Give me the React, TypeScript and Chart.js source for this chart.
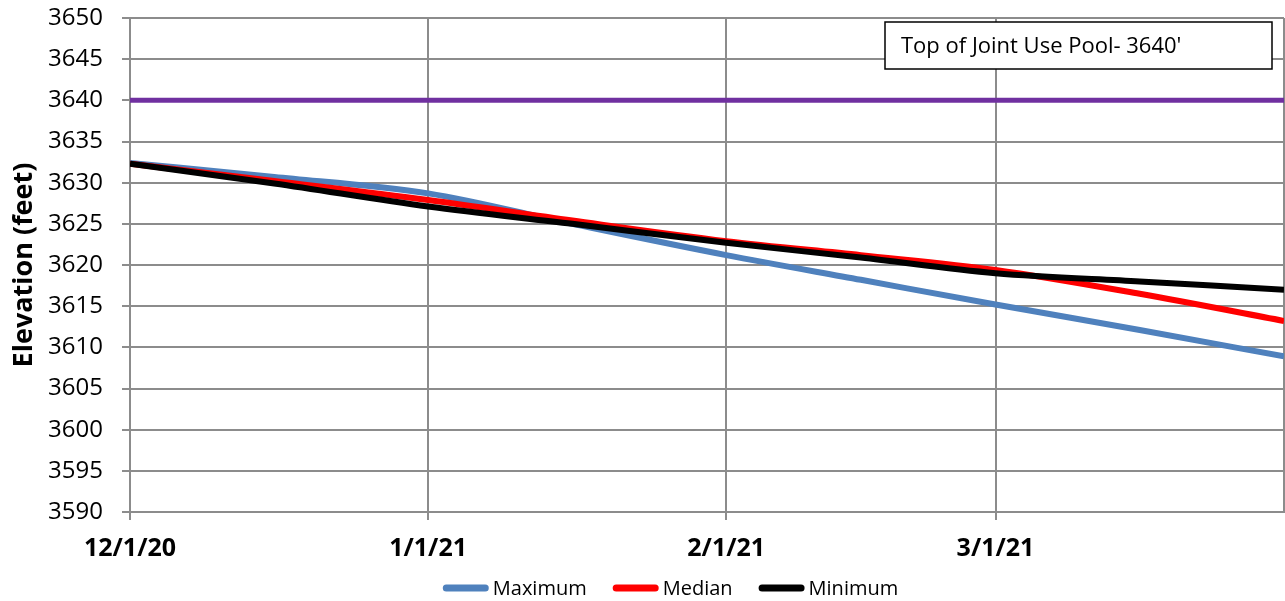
import React, { useEffect, useRef } from "react";
import { Chart, registerables } from "chart.js";

Chart.register(...registerables);

// Days since 12/1/20
const days = [0, 15, 31, 46, 62, 76, 90, 105, 120];
const maximum = [3632.4, 3630.7, 3628.7, 3625.0, 3621.2, 3618.2, 3615.2, 3612.1, 3608.9];
const median = [3632.3, 3630.2, 3627.9, 3625.4, 3622.9, 3621.2, 3619.4, 3616.5, 3613.2];
const minimum = [3632.3, 3629.9, 3627.1, 3625.0, 3622.7, 3620.9, 3619.0, 3618.0, 3617.0];
const poolDays = [0, 120];
const poolLevel = [3640, 3640];
const poolLabel = "Top of Joint Use Pool- 3640'";

const tickDays = [0, 31, 62, 90, 120];
const tickLabels = ["12/1/20", "1/1/21", "2/1/21", "3/1/21", ""];

const FONT = "'Open Sans', 'Noto Sans', sans-serif";
const GRID = "#8c8c8c";

const annotationPlugin = {
  id: "poolBox",
  afterDatasetsDraw(chart: any) {
    const { ctx, chartArea } = chart;
    const w = 387;
    const h = 47;
    const x = chartArea.right - 12 - w;
    const y = chartArea.top + 4;
    ctx.save();
    ctx.fillStyle = "#ffffff";
    ctx.fillRect(x, y, w, h);
    ctx.strokeStyle = "#000000";
    ctx.lineWidth = 1.5;
    ctx.strokeRect(x, y, w, h);
    ctx.fillStyle = "#000000";
    ctx.font = `22px ${FONT}`;
    ctx.textBaseline = "middle";
    ctx.textAlign = "left";
    ctx.fillText(poolLabel, x + 16, y + h / 2 + 1);
    ctx.restore();
  },
};

const legendPlugin = {
  id: "bottomLegend",
  afterDraw(chart: any) {
    const { ctx } = chart;
    const items = chart.data.datasets.slice(0, 3);
    const lineLen = 46;
    const gap = 4;
    const itemGap = 26;
    ctx.save();
    ctx.font = `20px ${FONT}`;
    const widths = items.map((d: any) => lineLen + gap + ctx.measureText(d.label).width);
    const total = widths.reduce((a: number, b: number) => a + b, 0) + itemGap * (items.length - 1);
    let x = chart.width / 2 + 28 - total / 2;
    const y = chart.height - 13;
    items.forEach((d: any, i: number) => {
      ctx.strokeStyle = d.borderColor;
      ctx.lineWidth = 7;
      ctx.lineCap = "round";
      ctx.beginPath();
      ctx.moveTo(x + 3.5, y);
      ctx.lineTo(x + lineLen - 3.5, y);
      ctx.stroke();
      ctx.fillStyle = "#000";
      ctx.textBaseline = "middle";
      ctx.textAlign = "left";
      ctx.fillText(d.label, x + lineLen + gap, y + 1);
      x += widths[i] + itemGap;
    });
    ctx.restore();
  },
};

export default function App() {
  const ref = useRef<HTMLCanvasElement | null>(null);
  useEffect(() => {
    if (!ref.current) return;
    const mk = (xs: number[], ys: number[]) => xs.map((d, i) => ({ x: d, y: ys[i] }));
    const chart = new Chart(ref.current, {
      type: "line",
      data: {
        datasets: [
          {
            label: "Maximum",
            data: mk(days, maximum),
            borderColor: "#4f81bd",
            backgroundColor: "#4f81bd",
            borderWidth: 6,
            pointRadius: 0,
            order: 2,
            cubicInterpolationMode: "monotone",
          },
          {
            label: "Median",
            data: mk(days, median),
            borderColor: "#ff0000",
            backgroundColor: "#ff0000",
            borderWidth: 6,
            pointRadius: 0,
            order: 1,
            cubicInterpolationMode: "monotone",
          },
          {
            label: "Minimum",
            data: mk(days, minimum),
            borderColor: "#000000",
            backgroundColor: "#000000",
            borderWidth: 6,
            pointRadius: 0,
            order: 0,
            cubicInterpolationMode: "monotone",
          },
          {
            label: "Top of Joint Use Pool",
            data: mk(poolDays, poolLevel),
            borderColor: "#7030a0",
            backgroundColor: "#7030a0",
            borderWidth: 5,
            pointRadius: 0,
            order: 3,
          },
        ],
      },
      options: {
        animation: false,
        responsive: false,
        maintainAspectRatio: false,
        layout: { padding: { left: 8, right: 1, top: 18, bottom: 39 } },
        plugins: {
          tooltip: { enabled: false },
          legend: { display: false },
        },
        scales: {
          x: {
            type: "linear",
            min: 0,
            max: 120,
            afterBuildTicks: (scale: any) => {
              scale.ticks = tickDays.map((v) => ({ value: v }));
            },
            afterFit: (scale: any) => {
              scale.height = 50;
              scale.paddingLeft = 0;
              scale.paddingRight = 0;
            },
            ticks: {
              autoSkip: false,
              maxRotation: 0,
              padding: 14,
              color: "#000",
              font: { family: FONT, size: 25, weight: "bold" },
              callback: (v: any) => {
                const i = tickDays.indexOf(Number(v));
                return i >= 0 ? tickLabels[i] : "";
              },
            },
            grid: {
              color: GRID,
              lineWidth: 2,
              tickLength: 8,
              tickColor: (c: any) => (c.tick && c.tick.value === 120 ? "rgba(0,0,0,0)" : GRID),
            },
            border: { color: GRID, width: 2 },
          },
          y: {
            min: 3590,
            max: 3650,
            afterFit: (scale: any) => {
              scale.width = 122;
              scale.paddingTop = 0;
              scale.paddingBottom = 0;
            },
            ticks: {
              stepSize: 5,
              padding: 19,
              color: "#000",
              font: { family: FONT, size: 24 },
              callback: (v: any) => String(v),
            },
            grid: { color: GRID, lineWidth: 2, tickLength: 8 },
            border: { color: GRID, width: 2 },
            title: {
              display: true,
              text: "Elevation (feet)",
              color: "#000",
              padding: 0,
              font: { family: FONT, size: 27, weight: "bold" },
            },
          },
        },
      },
      plugins: [annotationPlugin, legendPlugin],
    } as any);
    return () => chart.destroy();
  }, []);
  return (
    <div style={{ position: "fixed", left: 0, top: 0, width: 1285, height: 601, background: "#fff" }}>
      <canvas ref={ref} width={1285} height={601} style={{ width: 1285, height: 601 }} />
    </div>
  );
}
